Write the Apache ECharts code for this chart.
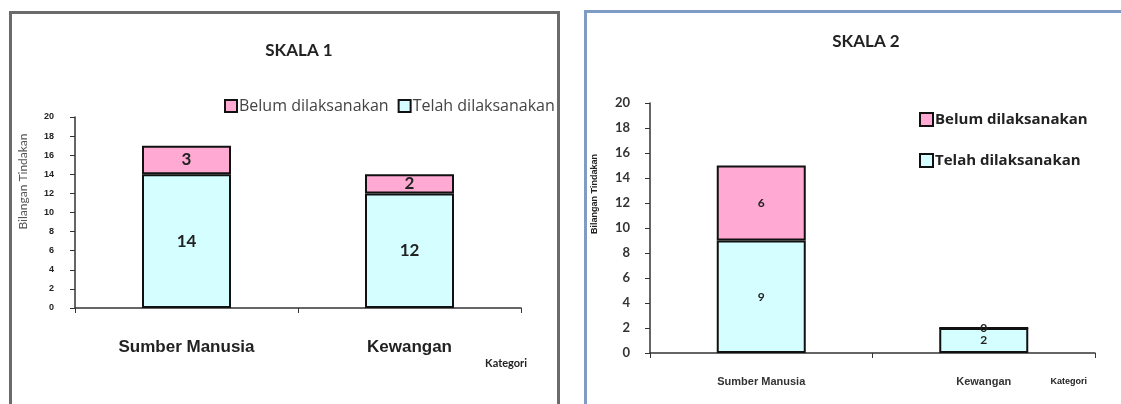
<!DOCTYPE html>
<html>
<head>
<meta charset="utf-8">
<script src="https://cdn.jsdelivr.net/npm/echarts@6/dist/echarts.min.js"></script>
<style>
  html, body { margin: 0; padding: 0; background: #fff; overflow: hidden; }
  #wrap { position: relative; width: 1121px; height: 404px; overflow: hidden; }
  .frame_left { position: absolute; left: 9px; top: 11px; width: 545px; height: 460px; border: 3px solid #6b6b6b; }
  .frame_right { position: absolute; left: 584px; top: 10px; width: 600px; height: 460px; border: 3px solid #7f9cc4; }
  #chart { position: absolute; left: 0; top: 0; width: 1121px; height: 404px; }
</style>
</head>
<body>
<div id="wrap">
  <div class="frame_left"></div>
  <div class="frame_right"></div>
  <div id="chart"></div>
</div>
<script>
  // data
  var categories = ['Sumber Manusia', 'Kewangan'];
  var seriesNames = ['Belum dilaksanakan', 'Telah dilaksanakan'];
  var skala1Telah = [14, 12];
  var skala1Belum = [3, 2];
  var skala2Telah = [9, 2];
  var skala2Belum = [6, 0];

  var pink = '#ffa9d3';
  var cyan = '#d4feff';
  var narrow = '"Liberation Sans Narrow", "Liberation Sans", sans-serif';
  var body = 'Lato, "Open Sans", sans-serif';
  var wide = '"Open Sans", Lato, sans-serif';

  var myChart = echarts.init(document.getElementById('chart'));

  function bar(name, data, color, grid, labelSize) {
    return {
      name: name,
      type: 'bar',
      stack: 'g' + grid,
      xAxisIndex: grid,
      yAxisIndex: grid,
      barWidth: 89,
      data: data,
      itemStyle: { color: color, borderColor: '#111', borderWidth: 2 },
      label: {
        show: true,
        position: 'inside',
        color: '#222',
        fontFamily: body,
        fontWeight: 'bold',
        fontSize: labelSize
      },
      emphasis: { disabled: true }
    };
  }

  var axisLine = { show: true, lineStyle: { color: '#333', width: 1.5 } };

  var option = {
    animation: false,
    title: [
      { text: 'SKALA 1', left: 294, top: 37, textAlign: 'center',
        textStyle: { fontFamily: body, fontWeight: 'bold', fontSize: 17, color: '#222' } },
      { text: 'SKALA 2', left: 861, top: 28, textAlign: 'center',
        textStyle: { fontFamily: body, fontWeight: 'bold', fontSize: 17, color: '#222' } }
    ],
    legend: [
      {
        data: seriesNames, left: 219, top: 93, itemGap: 9,
        itemWidth: 12, itemHeight: 12, icon: 'rect',
        itemStyle: { borderColor: '#111', borderWidth: 2 },
        textStyle: { fontFamily: wide, fontSize: 16, color: '#444', padding: [0, 0, 0, -3] },
        selectedMode: false
      },
      {
        data: seriesNames, left: 914, top: 107, orient: 'vertical', itemGap: 26,
        itemWidth: 13, itemHeight: 13, icon: 'rect',
        itemStyle: { borderColor: '#111', borderWidth: 2 },
        textStyle: { fontFamily: wide, fontWeight: 'bold', fontSize: 15, color: '#222', padding: [0, 0, 0, -3] },
        selectedMode: false
      }
    ],
    grid: [
      { left: 75, right: 600, top: 117, bottom: 96 },
      { left: 650, right: 26, top: 103, bottom: 51 }
    ],
    xAxis: [
      {
        type: 'category', gridIndex: 0, data: categories,
        axisLine: axisLine,
        axisTick: { show: true, length: 5, lineStyle: { color: '#333' } },
        axisLabel: { margin: 31, fontFamily: narrow, fontWeight: 'bold', fontSize: 17, color: '#222' },
        name: 'Kategori', nameLocation: 'end', nameGap: 6,
        nameTextStyle: { align: 'right', verticalAlign: 'top', padding: [50, 0, 0, 0],
          fontFamily: body, fontWeight: 'bold', fontSize: 11, color: '#222' }
      },
      {
        type: 'category', gridIndex: 1, data: categories,
        axisLine: axisLine,
        axisTick: { show: true, length: 5, lineStyle: { color: '#333' } },
        axisLabel: { margin: 23, fontFamily: narrow, fontWeight: 'bold', fontSize: 11, color: '#333' },
        name: 'Kategori', nameLocation: 'end', nameGap: -8,
        nameTextStyle: { align: 'right', verticalAlign: 'top', padding: [24, 0, 0, 0],
          fontFamily: narrow, fontWeight: 'bold', fontSize: 9, color: '#222' }
      }
    ],
    yAxis: [
      {
        type: 'value', gridIndex: 0, min: 0, max: 20, interval: 2,
        axisLine: axisLine,
        axisTick: { show: true, length: 5, lineStyle: { color: '#333' } },
        splitLine: { show: false },
        axisLabel: { margin: 21, fontFamily: narrow, fontWeight: 'bold', fontSize: 9, color: '#222' },
        name: 'Bilangan Tindakan', nameLocation: 'middle', nameGap: 46,
        nameTextStyle: { fontFamily: body, fontSize: 12, color: '#555', padding: [0, 0, 0, 62] }
      },
      {
        type: 'value', gridIndex: 1, min: 0, max: 20, interval: 2,
        axisLine: axisLine,
        axisTick: { show: true, length: 5, lineStyle: { color: '#333' } },
        splitLine: { show: false },
        axisLabel: { margin: 20, fontFamily: body, fontWeight: 'bold', fontSize: 13, color: '#333' },
        name: 'Bilangan Tindakan', nameLocation: 'middle', nameGap: 51,
        nameTextStyle: { fontFamily: narrow, fontWeight: 'bold', fontSize: 9, color: '#222', padding: [0, 0, 0, 68] }
      }
    ],
    series: [
      bar('Telah dilaksanakan', skala1Telah, cyan, 0, 17),
      bar('Belum dilaksanakan', skala1Belum, pink, 0, 17),
      bar('Telah dilaksanakan', skala2Telah, cyan, 1, 12),
      bar('Belum dilaksanakan', skala2Belum, pink, 1, 12)
    ]
  };
  myChart.setOption(option, true);
</script>
</body>
</html>
